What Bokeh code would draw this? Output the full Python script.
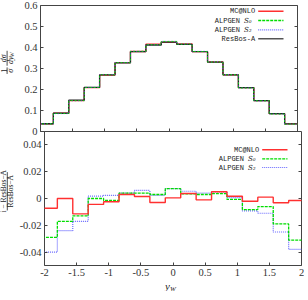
from bokeh.plotting import figure
from bokeh.layouts import column, row
from bokeh.models import Range1d, FixedTicker, LinearAxis, Label, Arrow, CustomJSTickFormatter
from bokeh.core.properties import value
from bokeh.embed import file_html
from bokeh.resources import INLINE

# ---------------- data ----------------
bin_edges = [-2.04, -1.80, -1.56, -1.32, -1.08, -0.84, -0.60, -0.36, -0.12,
             0.12, 0.36, 0.60, 0.84, 1.08, 1.32, 1.56, 1.80, 2.04]

resbos_a = [0.037, 0.087, 0.149, 0.210, 0.270, 0.327, 0.380, 0.412, 0.426,
            0.415, 0.380, 0.330, 0.270, 0.209, 0.147, 0.085, 0.036]
mcnlo = [0.037, 0.087, 0.147, 0.209, 0.269, 0.328, 0.381, 0.416, 0.426,
         0.417, 0.380, 0.332, 0.270, 0.209, 0.147, 0.085, 0.036]
alpgen_s0 = [0.036, 0.086, 0.147, 0.210, 0.270, 0.328, 0.382, 0.413, 0.429,
             0.416, 0.381, 0.331, 0.270, 0.207, 0.146, 0.083, 0.035]
alpgen_s2 = [0.036, 0.085, 0.146, 0.210, 0.271, 0.328, 0.382, 0.413, 0.429,
             0.417, 0.382, 0.332, 0.270, 0.207, 0.145, 0.083, 0.035]

mcnlo_ratio = [-0.0073, 0.0000, -0.0115, -0.0044, -0.0024, 0.0030, 0.0015, -0.0030, 0.0005,
               0.0037, -0.0010, 0.0050, 0.0017, -0.0020, 0.0010, -0.0032, -0.0015]
s0_ratio = [-0.0290, -0.0170, -0.0130, 0.0000, -0.0015, 0.0040, 0.0040, 0.0030, 0.0073,
            0.0034, 0.0030, 0.0037, -0.0007, -0.0083, -0.0060, -0.0190, -0.0310]
s2_ratio = [-0.0400, -0.0240, -0.0170, 0.0017, 0.0024, 0.0040, 0.0060, 0.0024, 0.0073,
            0.0054, 0.0040, 0.0050, 0.0007, -0.0093, -0.0110, -0.0250, -0.0380]

x_ticks = [-2.0, -1.5, -1.0, -0.5, 0.0, 0.5, 1.0, 1.5, 2.0]
x_tick_labels = ["-2", "-1.5", "-1", "-0.5", "0", "0.5", "1", "1.5", "2"]
top_ticks = [0.0, 0.1, 0.2, 0.3, 0.4, 0.5, 0.6]
top_tick_labels = ["0", "0.1", "0.2", "0.3", "0.4", "0.5", "0.6"]
ratio_ticks = [-0.04, -0.02, 0.0, 0.02, 0.04]
ratio_tick_labels = ["-0.04", "-0.02", "0", "0.02", "0.04"]

RED, GREEN, BLUE, BLACK = "#ff3030", "#00dd00", "#6868ff", "#222222"
FRAME = "#444444"
INK = "#222222"
SERIF = "Liberation Serif"
MONO = "Liberation Mono"

FW, H1, H2 = 257, 126, 134          # frame sizes
TOP, GAP, BOT = 5, 7, 15            # borders
LAB_W = 16                          # width of the strip holding the y titles
P1_H = TOP + H1 + GAP
P2_H = GAP + H2 + BOT
XLAB_H = 11


def stepped(vals):
    return bin_edges, list(vals) + [vals[-1]]


def style_axis(ax, ticks, labels=None):
    ax.ticker = FixedTicker(ticks=ticks)
    ax.axis_line_color = None
    ax.major_tick_in = 3
    ax.major_tick_out = 0
    ax.major_tick_line_color = FRAME
    ax.minor_tick_line_color = None
    if labels is not None:
        ax.major_label_overrides = dict(zip(ticks, labels))
        ax.major_label_text_font = SERIF
        ax.major_label_text_font_size = "10.5px"
        ax.major_label_text_color = "#333333"
        ax.major_label_standoff = 3
    else:
        ax.formatter = CustomJSTickFormatter(code="return ''")
        ax.major_label_text_font_size = "0px"
        ax.major_label_standoff = 0


def base_fig(frame_h, y_range, top, bottom):
    p = figure(frame_width=FW, frame_height=frame_h, x_range=x_range, y_range=y_range,
               output_backend="svg", toolbar_location=None,
               min_border_left=24, min_border_right=3,
               min_border_top=top, min_border_bottom=bottom)
    p.grid.visible = False
    p.outline_line_color = FRAME
    p.outline_line_width = 1
    p.background_fill_color = "white"
    return p


def strip(w, h):
    s = figure(width=w, height=h, x_range=Range1d(0, w), y_range=Range1d(0, h),
               x_axis_type=None, y_axis_type=None, output_backend="svg",
               toolbar_location=None, min_border=0)
    s.grid.visible = False
    s.outline_line_color = None
    s.background_fill_color = None
    s.border_fill_color = None
    return s


def stext(s, x, y, t, size="8px", style="normal", angle=0):
    s.text(x=[x], y=[y], text=[t], angle=angle, angle_units="deg",
           text_font=value(SERIF), text_font_size=value(size), text_font_style=style,
           text_align="center", text_baseline="middle", text_color=INK)


def txt(p, x, y, text, font=SERIF, size="7px", style="normal", align="center"):
    p.add_layout(Label(x=x, y=y, x_units="screen", y_units="screen", text=text,
                       text_font=font, text_font_size=size, text_font_style=style,
                       text_align=align, text_baseline="middle", text_color=INK))


def legend_row(p, frame_h, offset, label, sub, color, width, dash):
    y = frame_h - offset
    if sub is None:
        txt(p, 214.7, y, label, font=MONO, align="right")
    else:
        txt(p, 199.5, y, label, font=MONO, align="right")
        txt(p, 203.5, y, sub, font="DejaVu Serif", style="italic", align="left")
    p.add_layout(Arrow(end=None, x_start=217.7, y_start=y, x_end=243.0, y_end=y,
                       start_units="screen", end_units="screen",
                       line_color=color, line_width=width, line_dash=dash))


x_range = Range1d(-2, 2)

# ---------------- top panel ----------------
p1 = base_fig(H1, Range1d(0, 0.6), TOP, GAP)
p1.border_fill_color = "white"
p1.step(*stepped(mcnlo), mode="after", line_color=RED, line_width=1.3)
p1.step(*stepped(resbos_a), mode="after", line_color=BLACK, line_width=1.3)
p1.step(*stepped(alpgen_s2), mode="after", line_color=BLUE, line_width=0.9, line_dash="1 2")
p1.step(*stepped(alpgen_s0), mode="after", line_color=GREEN, line_width=0.9, line_dash="2 2")

style_axis(p1.xaxis[0], x_ticks)
style_axis(p1.yaxis[0], top_ticks, top_tick_labels)
r1 = LinearAxis()
style_axis(r1, top_ticks)
p1.add_layout(r1, "right")

legend_row(p1, H1, 5.7, "MC@NLO", None, RED, 1.4, "solid")
legend_row(p1, H1, 15.0, "ALPGEN", "S₀", GREEN, 1.3, "3 1")
legend_row(p1, H1, 24.3, "ALPGEN", "S₂", BLUE, 1.2, "1 1")
legend_row(p1, H1, 33.3, "ResBos-A", None, "#555555", 1.5, "solid")

# y title of the top panel: 1/σ dσ/dy_W (rotated fraction)
lab1 = strip(LAB_W, P1_H)
yc1, yc2 = P1_H - (TOP + 66.4), P1_H - (TOP + 52.8)
stext(lab1, 3.2, yc1, "1", angle=90)
stext(lab1, 10.2, yc1, "σ", style="italic", angle=90)
stext(lab1, 3.2, yc2, "dσ", style="italic", angle=90)
stext(lab1, 10.2, yc2 - 2.2, "dy", style="italic", angle=90)
stext(lab1, 11.6, yc2 + 3.8, "W", size="6px", style="italic", angle=90)
lab1.segment(x0=[6.6, 6.6], y0=[yc1 - 3.6, yc2 - 8.2], x1=[6.6, 6.6], y1=[yc1 + 3.6, yc2 + 8.2],
             line_color=INK, line_width=0.8)

# ---------------- bottom panel ----------------
p2 = base_fig(H2, Range1d(-0.05, 0.05), GAP, BOT)
p2.border_fill_color = None
p2.step(*stepped(s2_ratio), mode="after", line_color=BLUE, line_width=1.2, line_dash="1 1")
p2.step(*stepped(s0_ratio), mode="after", line_color=GREEN, line_width=1.3, line_dash="3 1")
p2.step(*stepped(mcnlo_ratio), mode="after", line_color=RED, line_width=1.4)

style_axis(p2.xaxis[0], x_ticks, x_tick_labels)
style_axis(p2.yaxis[0], ratio_ticks, ratio_tick_labels)
r2 = LinearAxis()
style_axis(r2, ratio_ticks)
p2.add_layout(r2, "right")

legend_row(p2, H2, 18.3, "MC@NLO", None, RED, 1.4, "solid")
legend_row(p2, H2, 27.3, "ALPGEN", "S₀", GREEN, 1.3, "3 1")
legend_row(p2, H2, 36.0, "ALPGEN", "S₂", BLUE, 1.2, "1 1")

# y title of the ratio panel: (i − ResBos−A)/ResBos−A
lab2 = strip(LAB_W, P2_H)
yb = P2_H - (GAP + 62.6)
stext(lab2, 3.4, yb, "i − ResBos−A", size="7.5px", angle=90)
stext(lab2, 10.4, yb, "ResBos−A", size="7.5px", angle=90)
lab2.segment(x0=[6.8], y0=[yb - 22.3], x1=[6.8], y1=[yb + 22.3], line_color=INK, line_width=0.8)

# x title y_W
xlab = strip(LAB_W + 24 + FW + 3, XLAB_H)
stext(xlab, 167.0, 7.0, "y", size="11px", style="italic")
stext(xlab, 172.5, 4.0, "W", size="7px", style="italic")

row2 = row(lab2, p2)
row2.styles = {"margin-top": "-%dpx" % (2 * GAP)}
layout = column(row(lab1, p1), row2, xlab)
open("out.html", "w").write(file_html(layout, INLINE))
